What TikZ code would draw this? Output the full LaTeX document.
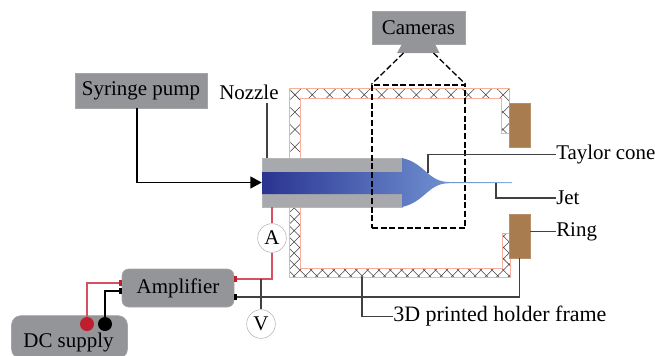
\documentclass[tikz,border=0pt]{standalone}
\usepackage{xcolor}
\usepackage{fontspec}
\setmainfont{Liberation Serif}
\usetikzlibrary{patterns.meta,arrows.meta}

\definecolor{boxgray}{RGB}{147,149,152}
\definecolor{nozzlegray}{RGB}{167,169,172}
\definecolor{ringbrown}{RGB}{168,124,79}
\definecolor{wirered}{RGB}{214,80,100}
\definecolor{termred}{RGB}{190,30,45}
\definecolor{wiredark}{RGB}{65,65,65}
\definecolor{framepink}{RGB}{248,175,155}

\tikzset{
  lbl/.style={font=\fontsize{15.7}{18}\selectfont,inner sep=0pt,text=black},
  graybox/.style={lbl,fill=boxgray,draw=boxgray!85,line width=0.4pt},
  ringbox/.style={fill=ringbrown,draw=ringbrown!85,line width=0.4pt,minimum width=15.75pt,minimum height=33pt,inner sep=0pt},
  meter/.style={lbl,circle,draw=black!30,fill=white,line width=0.4pt,minimum size=21.5pt},
  wire/.style={wiredark,line width=0.9pt},
  redwire/.style={wirered,line width=1pt},
  tab/.style={inner sep=0pt,minimum width=2.4pt,minimum height=4pt},
  term/.style={circle,inner sep=0pt,minimum size=10.5pt},
  viewline/.style={black,line width=1pt,dash pattern=on 4.5pt off 2pt},
}

\begin{document}
\begin{tikzpicture}[x=0.75pt,y=0.75pt,yscale=-1,xscale=1]
\useasboundingbox (0,0) rectangle (655,355);

%Holder frame
    \draw [framepink,line width=0.5pt,pattern={Hatch[angle=45,distance=9.2pt,line width=0.4pt]},pattern color=black!75]
      (289.5,158) -- (289.5,88) -- (509,88) -- (509,133) -- (501.5,133) -- (501.5,98) -- (300.5,98) -- (300.5,158) -- cycle ;
    \draw [framepink,line width=0.5pt,pattern={Hatch[angle=45,distance=6pt,line width=0.4pt]},pattern color=black!75]
      (289.5,207) -- (289.5,277) -- (510,277) -- (510,233) -- (502,233) -- (502,268) -- (300.5,268) -- (300.5,207) -- cycle ;

%Rings
    \node [ringbox] (ringtop) at (519.5,125) {};
    \node [ringbox] (ringbot) at (519.5,236) {};

%Nozzle and fluid
    \node [fill=nozzlegray,draw=nozzlegray!85,line width=0.4pt,minimum width=105pt,minimum height=36.75pt,inner sep=0pt] (nozzle) at (332,182.5) {};
    \path [left color={rgb,255:red,42;green,52;blue,145},middle color={rgb,255:red,70;green,105;blue,185},right color={rgb,255:red,135;green,175;blue,230}]
      (262,172) -- (402,172) -- (402,158) .. controls (425,163) and (428,182) .. (449,182) -- (512,182) -- (512,183.2) -- (449,183.2) .. controls (428,183.2) and (425,202) .. (402,207) -- (402,194) -- (262,194) -- cycle ;

%Boxes
    \node [graybox,minimum width=99pt,minimum height=26pt] (pump) at (141,90.5) {Syringe pump};
    \node [graybox,minimum width=69.75pt,minimum height=24.75pt] (cameras) at (418.5,27.5) {Cameras};
    \node [graybox,rounded corners=5pt,minimum width=84pt,minimum height=28.5pt] (amp) at (178,288) {Amplifier};
    \node [graybox,rounded corners=7pt,minimum width=87pt,minimum height=32pt] (dc) at (69.5,337) {};
    \node [lbl,anchor=base] (dctext) at (68.5,347) {DC supply};

%Camera lens and field of view
    \fill [boxgray] (402,44) -- (435,44) -- (439.5,53) -- (397,53) -- cycle ;
    \coordinate (lensl) at (403.5,53);
    \coordinate (lensr) at (433.5,53);
    \node [viewline,draw,minimum width=69.75pt,minimum height=107.25pt,inner sep=0pt] (view) at (418.5,156.5) {};
    \draw [viewline] (lensl) -- (view.north west) ;
    \draw [viewline] (lensr) -- (view.north east) ;

%Labels
    \node [lbl,anchor=west] (nozzlelbl) at (219,92) {Nozzle};
    \node [lbl,anchor=west] (taylor) at (556,154.5) {Taylor cone};
    \node [lbl,anchor=west] (jet) at (556,198) {Jet};
    \node [lbl,anchor=west] (ring) at (556,231.5) {Ring};
    \node [lbl,anchor=west,font=\fontsize{16.5}{18}\selectfont] (holder) at (393,316.5) {3D printed holder frame};

%Meters and terminals
    \node [meter] (ameter) at (272,238) {A};
    \node [meter] (vmeter) at (261,324) {V};
    \node [term,fill=termred] (dcred) at (87,324) {};
    \node [term,fill=black] (dcblack) at (105,324) {};
    \node [tab,fill=termred] (ampin) at (120.5,283) {};
    \node [tab,fill=black] (ampgnd) at (120.5,291) {};
    \node [tab,fill=termred] (ampout) at (235.5,279) {};
    \node [tab,fill=black] (ampret) at (235.5,297) {};

%Straight Lines
    \coordinate (pumpfoot) at (137,108);
    \coordinate (nozzletop) at (267,158);
    \coordinate (nozzleneck) at (267,103);
    \coordinate (nozzlebot) at (272,207);
    \coordinate (conept) at (428,172.5);
    \coordinate (jetpt) at (496,183);
    \coordinate (framept) at (362,277);
    \coordinate (vtap) at (261,279);
    \draw [black,line width=0.9pt,-{Triangle[length=8.5pt,width=9pt]}] (pumpfoot) |- (nozzle.west) ;
    \draw [wire] (nozzletop) -- (nozzleneck) ;
    \draw [wire] (conept) |- (taylor.west) ;
    \draw [wire] (jetpt) |- (jet.west) ;
    \draw [wire] (ringbot.east |- ring.west) -- (ring.west) ;
    \draw [wire] (framept) |- (holder.west) ;
    \draw [redwire] (nozzlebot) -- (ameter.north) ;
    \draw [redwire] (ameter.south) |- (ampout.east) ;
    \draw [wire] (vtap) -- (vmeter.north) ;
    \draw [wire] (ampret.east) -| (ringbot.south) ;
    \draw [redwire] (dcred.north) |- (ampin.west) ;
    \draw [black,line width=0.9pt] (dcblack.north) |- (ampgnd.west) ;

\end{tikzpicture}
\end{document}
